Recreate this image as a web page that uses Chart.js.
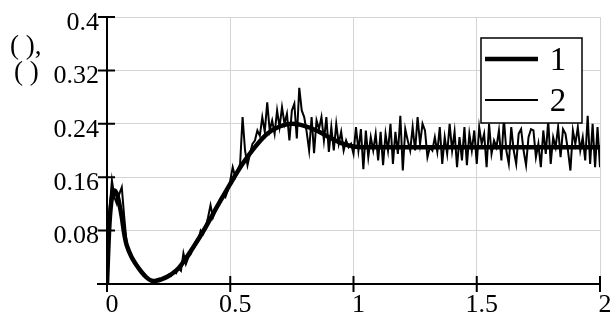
<!DOCTYPE html>
<html lang="en">
<head>
    <meta charset="UTF-8">
    <title>Chart</title>
    <script src="https://cdn.jsdelivr.net/npm/chart.js"></script>
    <style>
        body { margin: 0; background: #fff; }
        canvas { display: block; }
    </style>
</head>
<body>
    <canvas id="chart" width="610" height="317"></canvas>

    <script>
        // series 1 (smooth curve)
        const smoothX = [0, 0.01, 0.02, 0.03, 0.04, 0.05, 0.06, 0.07, 0.08, 0.1, 0.12, 0.14, 0.16, 0.18, 0.2, 0.22, 0.25, 0.28, 0.3,
            0.35, 0.4, 0.45, 0.5, 0.55, 0.6, 0.65, 0.7, 0.75, 0.8, 0.85, 0.9, 0.95, 1.0, 1.05, 1.5, 2.0];
        const smoothY = [0, 0.09, 0.13, 0.14, 0.135, 0.12, 0.1, 0.075, 0.058, 0.04, 0.028, 0.018, 0.01, 0.005, 0.005, 0.007, 0.012, 0.02, 0.028,
            0.055, 0.085, 0.118, 0.15, 0.18, 0.205, 0.225, 0.236, 0.24, 0.237, 0.23, 0.22, 0.211, 0.206, 0.205, 0.205, 0.205];

        // series 2 (noisy), sampled every 0.01 from 0 to 2
        const noisyStep = 0.01;
        const noisyY = [
            0, 0.11, 0.155, 0.13, 0.12, 0.135, 0.145, 0.1, 0.06, 0.047,
            0.04, 0.033, 0.027, 0.022, 0.017, 0.013, 0.01, 0.007, 0.004, 0.005,
            0.006, 0.008, 0.007, 0.01, 0.011, 0.014, 0.012, 0.018, 0.016, 0.024,
            0.02, 0.046, 0.03, 0.04, 0.045, 0.055, 0.06, 0.065, 0.08, 0.075,
            0.085, 0.1, 0.118, 0.1, 0.11, 0.12, 0.128, 0.133, 0.13, 0.14,
            0.155, 0.175, 0.16, 0.17, 0.18, 0.25, 0.2, 0.178, 0.195, 0.21,
            0.215, 0.23, 0.222, 0.25, 0.228, 0.272, 0.23, 0.245, 0.225, 0.26,
            0.235, 0.265, 0.24, 0.255, 0.215, 0.26, 0.27, 0.218, 0.294, 0.26,
            0.25, 0.228, 0.2, 0.25, 0.196, 0.245, 0.232, 0.25, 0.215, 0.25,
            0.198, 0.235, 0.2, 0.24, 0.21, 0.228, 0.2, 0.215, 0.205, 0.21,
            0.195, 0.235, 0.2, 0.232, 0.172, 0.23, 0.19, 0.22, 0.2, 0.225,
            0.185, 0.228, 0.178, 0.225, 0.2, 0.24, 0.18, 0.228, 0.195, 0.252,
            0.17, 0.232, 0.215, 0.2, 0.235, 0.2, 0.25, 0.21, 0.24, 0.23,
            0.19, 0.205, 0.2, 0.22, 0.198, 0.235, 0.18, 0.22, 0.195, 0.24,
            0.2, 0.228, 0.175, 0.22, 0.185, 0.235, 0.178, 0.225, 0.2, 0.23,
            0.18, 0.235, 0.21, 0.225, 0.175, 0.24, 0.195, 0.215, 0.205, 0.23,
            0.185, 0.248, 0.2, 0.18, 0.235, 0.2, 0.18, 0.225, 0.232, 0.2,
            0.178, 0.22, 0.232, 0.23, 0.19, 0.21, 0.175, 0.23, 0.195, 0.245,
            0.18, 0.22, 0.205, 0.235, 0.19, 0.232, 0.225, 0.2, 0.17, 0.23,
            0.21, 0.235, 0.2, 0.22, 0.185, 0.252, 0.18, 0.24, 0.175, 0.235,
            0.175
        ];

        const seriesNames = ['1', '2'];
        const xTicks = [0, 0.5, 1, 1.5, 2];
        const xTickLabels = ['0', '0.5', '1', '1.5', '2'];
        const yTicks = [0, 0.08, 0.16, 0.24, 0.32, 0.4];
        const yTickLabels = ['', '0.08', '0.16', '0.24', '0.32', '0.4'];
        const yAxisLabel = ['( ),', '( )'];

        const serif = "'Liberation Serif', 'Times New Roman', serif";

        const smoothData = smoothX.map((x, i) => ({ x: x, y: smoothY[i] }));
        const noisyData = noisyY.map((y, i) => ({ x: +(i * noisyStep).toFixed(2), y: y }));

        // axes with crossing ticks, legend box and the y label
        const decorations = {
            id: 'decorations',
            beforeDatasetsDraw(chart) {
                const { ctx, chartArea, scales } = chart;
                const x = scales.x, y = scales.y;
                ctx.save();
                ctx.strokeStyle = '#000';
                ctx.lineWidth = 2;
                ctx.beginPath();
                ctx.moveTo(chartArea.left - 10, chartArea.bottom);
                ctx.lineTo(chartArea.right, chartArea.bottom);
                ctx.moveTo(chartArea.left, chartArea.top);
                ctx.lineTo(chartArea.left, chartArea.bottom + 8);
                yTicks.forEach(v => {
                    if (v === 0) return;
                    const py = y.getPixelForValue(v);
                    ctx.moveTo(chartArea.left - 9, py);
                    ctx.lineTo(chartArea.left + 8, py);
                });
                xTicks.forEach(v => {
                    if (v === 0) return;
                    const px = x.getPixelForValue(v);
                    ctx.moveTo(px, chartArea.bottom - 8);
                    ctx.lineTo(px, chartArea.bottom + 8);
                });
                ctx.stroke();
                ctx.restore();
            },
            afterDraw(chart) {
                const ctx = chart.ctx;
                ctx.save();
                // y label
                ctx.fillStyle = '#000';
                ctx.font = '27px ' + serif;
                ctx.textBaseline = 'alphabetic';
                ctx.textAlign = 'left';
                ctx.fillText(yAxisLabel[0], 10, 54);
                ctx.fillText(yAxisLabel[1], 14, 80);

                // legend box
                const bx = 481, by = 38, bw = 101, bh = 85;
                ctx.fillStyle = '#fff';
                ctx.fillRect(bx, by, bw, bh);
                ctx.strokeStyle = '#000';
                ctx.lineWidth = 1.5;
                ctx.strokeRect(bx, by, bw, bh);
                const rows = [59, 100];
                chart.data.datasets.forEach((ds, i) => {
                    ctx.beginPath();
                    ctx.lineWidth = ds.borderWidth;
                    ctx.moveTo(485, rows[i]);
                    ctx.lineTo(538, rows[i]);
                    ctx.stroke();
                    ctx.fillStyle = '#000';
                    ctx.font = '33px ' + serif;
                    ctx.textAlign = 'center';
                    ctx.textBaseline = 'middle';
                    ctx.fillText(ds.label, 558, rows[i] + 2);
                });
                ctx.restore();
            }
        };

        new Chart(document.getElementById('chart').getContext('2d'), {
            type: 'line',
            data: {
                datasets: [{
                    label: seriesNames[0],
                    data: smoothData,
                    borderColor: '#000',
                    borderWidth: 4.5,
                    pointRadius: 0,
                    tension: 0.3,
                    fill: false
                }, {
                    label: seriesNames[1],
                    data: noisyData,
                    borderColor: '#000',
                    borderWidth: 2,
                    pointRadius: 0,
                    tension: 0,
                    fill: false
                }]
            },
            options: {
                responsive: false,
                animation: false,
                events: [],
                layout: { padding: { top: 17, right: 10, left: 0, bottom: 0 } },
                plugins: {
                    legend: { display: false },
                    tooltip: { enabled: false }
                },
                scales: {
                    x: {
                        type: 'linear',
                        min: 0,
                        max: 2,
                        afterBuildTicks: scale => { scale.ticks = xTicks.map(v => ({ value: v })); },
                        afterFit: scale => { scale.height = 33; scale.paddingLeft = 0; scale.paddingRight = 0; },
                        border: { display: false },
                        grid: { color: '#d4d4d4', lineWidth: 1, drawTicks: false },
                        ticks: {
                            color: '#000',
                            font: { family: serif, size: 26 },
                            padding: 6,
                            labelOffset: 5,
                            maxRotation: 0,
                            callback: (v) => xTickLabels[xTicks.indexOf(v)]
                        }
                    },
                    y: {
                        min: 0,
                        max: 0.4,
                        afterBuildTicks: scale => { scale.ticks = yTicks.map(v => ({ value: v })); },
                        afterFit: scale => { scale.width = 107; scale.paddingTop = 0; scale.paddingBottom = 0; },
                        border: { display: false },
                        grid: { color: '#d4d4d4', lineWidth: 1, drawTicks: false },
                        ticks: {
                            color: '#000',
                            font: { family: serif, size: 26 },
                            padding: 8,
                            labelOffset: 6,
                            callback: (v) => yTickLabels[yTicks.indexOf(v)]
                        }
                    }
                }
            },
            plugins: [decorations]
        });
    </script>
</body>
</html>
